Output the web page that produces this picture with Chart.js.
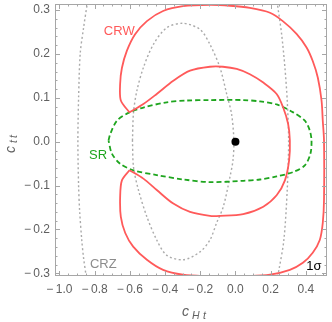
<!DOCTYPE html>
<html>
<head>
<meta charset="utf-8">
<script src="https://cdn.jsdelivr.net/npm/chart.js@4"></script>
<style>
  body { margin: 0; background: #fff; }
</style>
</head>
<body>
<canvas id="myChart" width="332" height="322"></canvas>
<script>
// axis ranges and tick labels
const xRange = [-1.025, 0.52];
const yRange = [-0.306, 0.314];
const xTicks = [-1.0, -0.8, -0.6, -0.4, -0.2, 0.0, 0.2, 0.4];
const yTicks = [-0.3, -0.2, -0.1, 0.0, 0.1, 0.2, 0.3];

// CRW contour, outer part (pinch top -> over the top -> right -> bottom -> pinch bottom)
const crwOuter = [
  [-0.602, 0.067], [-0.651, 0.094], [-0.655, 0.132], [-0.645, 0.168], [-0.617, 0.207],
  [-0.570, 0.245], [-0.503, 0.275], [-0.411, 0.298], [-0.298, 0.309], [-0.145, 0.312],
  [-0.031, 0.310], [0.082, 0.305], [0.196, 0.294], [0.269, 0.275], [0.347, 0.246],
  [0.404, 0.215], [0.439, 0.184], [0.468, 0.146], [0.489, 0.094], [0.496, 0.048],
  [0.503, 0.003], [0.503, -0.133], [0.496, -0.185], [0.479, -0.224], [0.439, -0.253],
  [0.383, -0.276], [0.309, -0.292], [0.196, -0.303], [0.043, -0.307], [-0.145, -0.307],
  [-0.298, -0.303], [-0.411, -0.292], [-0.503, -0.269], [-0.581, -0.239], [-0.626, -0.208],
  [-0.651, -0.171], [-0.655, -0.126], [-0.645, -0.088], [-0.602, -0.065]
];
// CRW contour, inner part (pinch bottom -> right -> pinch top)
const crwInner = [
  [-0.602, -0.065], [-0.523, -0.084], [-0.447, -0.110], [-0.353, -0.141], [-0.258, -0.160],
  [-0.145, -0.169], [-0.088, -0.169], [0.044, -0.165], [0.158, -0.148], [0.234, -0.122],
  [0.281, -0.088], [0.305, -0.042], [0.309, 0.003], [0.299, 0.041], [0.271, 0.078],
  [0.234, 0.109], [0.158, 0.135], [0.082, 0.154], [0.007, 0.166], [-0.071, 0.171],
  [-0.145, 0.171], [-0.258, 0.162], [-0.353, 0.139], [-0.447, 0.109], [-0.523, 0.086],
  [-0.602, 0.067]
];
// SR contour
const srLine = [
  [-0.721, 0.003], [-0.711, 0.018], [-0.673, 0.048], [-0.602, 0.067], [-0.523, 0.078],
  [-0.390, 0.090], [-0.277, 0.094], [-0.145, 0.095], [0.044, 0.095], [0.139, 0.092],
  [0.234, 0.085], [0.328, 0.067], [0.394, 0.048], [0.422, 0.026], [0.432, 0.003],
  [0.426, -0.027], [0.394, -0.054], [0.328, -0.069], [0.234, -0.079], [0.139, -0.086],
  [0.044, -0.089], [-0.145, -0.092], [-0.296, -0.086], [-0.447, -0.076], [-0.579, -0.065],
  [-0.655, -0.050], [-0.702, -0.027], [-0.721, 0.003]
];
// CRZ contours (inner closed one, plus the two visible pieces of the outer one)
const crzInner = [
  [-0.585, 0.003], [-0.579, 0.067], [-0.560, 0.116], [-0.523, 0.169], [-0.466, 0.222],
  [-0.390, 0.260], [-0.296, 0.270], [-0.201, 0.256], [-0.145, 0.222], [-0.088, 0.169],
  [-0.050, 0.109], [-0.022, 0.063], [-0.009, 0.003], [-0.014, -0.042], [-0.031, -0.080],
  [-0.069, -0.148], [-0.107, -0.185], [-0.145, -0.224], [-0.201, -0.251], [-0.296, -0.269],
  [-0.390, -0.259], [-0.447, -0.224], [-0.503, -0.171], [-0.551, -0.110], [-0.579, -0.058],
  [-0.585, 0.003]
];
const crzLeft = [
  [-0.840, 0.320], [-0.863, 0.259], [-0.882, 0.200], [-0.891, 0.100], [-0.895, 0.001],
  [-0.891, -0.100], [-0.885, -0.158], [-0.873, -0.224], [-0.863, -0.264], [-0.846, -0.312]
];
const crzRight = [
  [0.236, 0.320], [0.262, 0.246], [0.281, 0.169], [0.294, 0.094], [0.302, 0.003],
  [0.294, -0.110], [0.275, -0.224], [0.247, -0.292], [0.237, -0.312]
];
const bestFit = [[0.0, 0.0]];

const RED = '#ff5a5a';
const GREEN = '#1ea51e';
const GREY = '#aaaaaa';
const TXT = '#606060';

const pts = arr => arr.map(p => ({ x: p[0], y: p[1] }));
// Mathematica-like labels: spaced minus sign
const fmt = v => (v < 0 ? '\u2212\u2009' : '') + Math.abs(v).toFixed(1);
const noPad = s => { s.paddingTop = 0; s.paddingBottom = 0; s.paddingLeft = 0; s.paddingRight = 0; };

const frameTicks = {
  id: 'frameTicks',
  afterDraw(chart) {
    const { ctx, chartArea: a, scales: { x, y } } = chart;
    ctx.save();
    ctx.strokeStyle = '#a6a6a6';
    ctx.lineWidth = 1;
    ctx.strokeRect(a.left + 0.5, a.top + 0.5, a.right - a.left - 1, a.bottom - a.top - 1);
    ctx.beginPath();
    for (let i = -21; i <= 11; i++) {
      const v = i * 0.05;
      if (v < xRange[0] || v > xRange[1]) continue;
      const px = Math.round(x.getPixelForValue(v)) + 0.5;
      const len = i % 4 === 0 ? 5 : 2.5;
      ctx.moveTo(px, a.bottom); ctx.lineTo(px, a.bottom - len);
      ctx.moveTo(px, a.top); ctx.lineTo(px, a.top + len);
    }
    for (let i = -16; i <= 16; i++) {
      const v = i * 0.02;
      if (v < yRange[0] || v > yRange[1]) continue;
      const py = Math.round(y.getPixelForValue(v)) + 0.5;
      const len = i % 5 === 0 ? 5 : 2.5;
      ctx.moveTo(a.left, py); ctx.lineTo(a.left + len, py);
      ctx.moveTo(a.right, py); ctx.lineTo(a.right - len, py);
    }
    ctx.stroke();

    // curve labels
    ctx.font = '13px "Liberation Sans", Arial, sans-serif';
    ctx.textAlign = 'center';
    ctx.textBaseline = 'middle';
    const lab = (t, vx, vy, c) => {
      ctx.fillStyle = c;
      ctx.fillText(t, x.getPixelForValue(vx), y.getPixelForValue(vy));
    };
    lab('CRW', -0.66, 0.252, RED);
    lab('SR', -0.78, -0.031, GREEN);
    lab('CRZ', -0.751, -0.28, '#8c8c8c');
    lab('1\u03c3', 0.445, -0.285, '#000');

    // axis titles with subscripts
    ctx.fillStyle = TXT;
    ctx.textAlign = 'left';
    ctx.textBaseline = 'alphabetic';
    ctx.font = 'italic 14px "Liberation Sans", Arial, sans-serif';
    ctx.fillText('c', 182, 316);
    ctx.font = 'italic 10.5px "Liberation Sans", Arial, sans-serif';
    ctx.fillText('H', 192, 319);
    ctx.fillText('t', 203, 319);

    ctx.translate(15, 153);
    ctx.rotate(-Math.PI / 2);
    ctx.font = 'italic 14px "Liberation Sans", Arial, sans-serif';
    ctx.fillText('c', 0, 0);
    ctx.font = 'italic 10.5px "Liberation Sans", Arial, sans-serif';
    ctx.fillText('t', 10, 2);
    ctx.fillText('t', 15, 2);
    ctx.restore();
  }
};

const ctx = document.getElementById('myChart');

const myChart = new Chart(ctx, {
  type: 'scatter',
  data: {
    datasets: [
      { data: pts(bestFit), pointRadius: 4, backgroundColor: '#000', borderWidth: 0 },
      { data: pts(crwOuter), showLine: true, borderColor: RED, borderWidth: 1.8, pointRadius: 0, tension: 0.3 },
      { data: pts(crwInner), showLine: true, borderColor: RED, borderWidth: 1.8, pointRadius: 0, tension: 0.3 },
      { data: pts(srLine), showLine: true, borderColor: GREEN, borderWidth: 1.8, borderDash: [5, 3], pointRadius: 0, tension: 0.3 },
      { data: pts(crzInner), showLine: true, borderColor: GREY, borderWidth: 1.4, borderDash: [2, 2.5], pointRadius: 0, tension: 0.3 },
      { data: pts(crzLeft), showLine: true, borderColor: GREY, borderWidth: 1.4, borderDash: [2, 2.5], pointRadius: 0, tension: 0.3 },
      { data: pts(crzRight), showLine: true, borderColor: GREY, borderWidth: 1.4, borderDash: [2, 2.5], pointRadius: 0, tension: 0.3 },
    ],
  },
  options: {
    responsive: false,
    animation: false,
    devicePixelRatio: 1,
    layout: { padding: { top: 3, right: 5, left: 0, bottom: 0 } },
    plugins: { legend: { display: false }, tooltip: { enabled: false } },
    scales: {
      x: {
        type: 'linear',
        min: xRange[0],
        max: xRange[1],
        grid: { display: false, drawTicks: false },
        border: { display: false },
        afterBuildTicks: s => { s.ticks = xTicks.map(v => ({ value: v })); },
        afterFit: s => { s.height = 46; noPad(s); },
        ticks: {
          padding: 6,
          color: TXT,
          font: { family: '"Liberation Sans", Arial, sans-serif', size: 12 },
          maxRotation: 0,
          autoSkip: false,
          callback: fmt,
        },
      },
      y: {
        type: 'linear',
        min: yRange[0],
        max: yRange[1],
        grid: { display: false, drawTicks: false },
        border: { display: false },
        afterBuildTicks: s => { s.ticks = yTicks.map(v => ({ value: v })); },
        afterFit: s => { s.width = 55; noPad(s); },
        ticks: {
          padding: 5,
          color: TXT,
          font: { family: '"Liberation Sans", Arial, sans-serif', size: 12 },
          autoSkip: false,
          callback: fmt,
        },
      },
    },
  },
  plugins: [frameTicks],
});
</script>
</body>
</html>
